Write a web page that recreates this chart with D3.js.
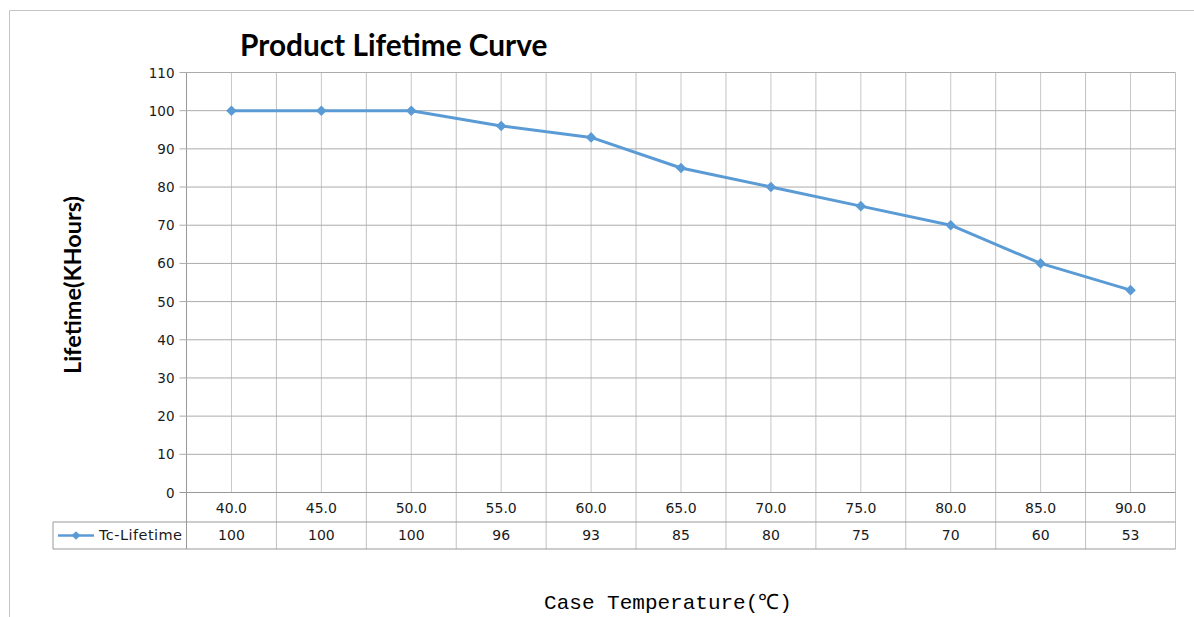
<!DOCTYPE html>
<html lang="en">
<head>
    <meta charset="utf-8">
    <script src="https://d3js.org/d3.v7.min.js"></script>
</head>
<style>
    body { margin: 0; background: #fff; }
</style>
<body>
        <script>
            const w = 1194
            const h = 617

            // data
            const temps = ["40.0", "45.0", "50.0", "55.0", "60.0", "65.0", "70.0", "75.0", "80.0", "85.0", "90.0"]
            const lifetime = [100, 100, 100, 96, 93, 85, 80, 75, 70, 60, 53]
            const yTicks = [0, 10, 20, 30, 40, 50, 60, 70, 80, 90, 100, 110]
            const seriesName = "Tc-Lifetime"

            const blue = "#5B9BD5"
            const tickFont = "'DejaVu Sans', Verdana, sans-serif"

            var svg = d3.select("body")
                .append("svg")
                .attr("width", w)
                .attr("height", h);

            // outer frame (top and left edges only visible)
            svg.append("path")
                .attr("d", "M9.5," + h + "V10.5H" + w)
                .attr("fill", "none")
                .attr("stroke", "#c4c4c4")

            const pLeft = 186.5, pRight = 1175.5, pTop = 72.5, pBottom = 492.5
            const row1 = 522, row2 = 549

            let xScale = d3.scaleBand()
                .domain(temps)
                .range([pLeft, pRight])
                .padding(0)

            let yScale = d3.scaleLinear()
                .domain([0, 110])
                .range([pBottom, pTop])

            // vertical gridlines at category centres and band edges
            const edges = temps.map(t => xScale(t)).concat([pRight])
            svg.selectAll(".vcenter")
                .data(temps)
                .enter()
                .append("line")
                .attr("x1", d => xScale(d) + xScale.bandwidth() / 2)
                .attr("x2", d => xScale(d) + xScale.bandwidth() / 2)
                .attr("y1", pTop)
                .attr("y2", pBottom)
                .attr("stroke", "#c8c8c8")
            svg.selectAll(".vedge")
                .data(edges)
                .enter()
                .append("line")
                .attr("x1", d => d)
                .attr("x2", d => d)
                .attr("y1", pTop)
                .attr("y2", row2)
                .attr("stroke", d => d == pLeft ? "#999" : "#c0c0c0")

            // horizontal gridlines
            svg.selectAll(".hgrid")
                .data(yTicks)
                .enter()
                .append("line")
                .attr("x1", pLeft - 7)
                .attr("x2", pRight)
                .attr("y1", d => yScale(d))
                .attr("y2", d => yScale(d))
                .attr("stroke", d => d == 0 ? "#999" : "#ababab")

            // y tick labels
            svg.selectAll(".ylab")
                .data(yTicks)
                .enter()
                .append("text")
                .attr("x", pLeft - 12)
                .attr("y", d => yScale(d) + 5)
                .attr("text-anchor", "end")
                .attr("font-family", tickFont)
                .attr("font-size", "13.5px")
                .attr("fill", "#1a1a1a")
                .text(d => d)

            // data table
            svg.append("line").attr("x1", 53).attr("x2", pRight).attr("y1", row1).attr("y2", row1).attr("stroke", "#999")
            svg.append("line").attr("x1", 53).attr("x2", pRight).attr("y1", row2).attr("y2", row2).attr("stroke", "#999")
            svg.append("line").attr("x1", 53).attr("x2", 53).attr("y1", row1).attr("y2", row2).attr("stroke", "#999")

            svg.selectAll(".cat")
                .data(temps)
                .enter()
                .append("text")
                .attr("x", d => xScale(d) + xScale.bandwidth() / 2)
                .attr("y", 513)
                .attr("text-anchor", "middle")
                .attr("font-family", tickFont)
                .attr("font-size", "14px")
                .attr("fill", "#1a1a1a")
                .text(d => d)

            svg.selectAll(".val")
                .data(lifetime)
                .enter()
                .append("text")
                .attr("x", (d, i) => xScale(temps[i]) + xScale.bandwidth() / 2)
                .attr("y", 540)
                .attr("text-anchor", "middle")
                .attr("font-family", tickFont)
                .attr("font-size", "14px")
                .attr("fill", "#1a1a1a")
                .text(d => d)

            // legend key in the table
            svg.append("line").attr("x1", 58).attr("x2", 94).attr("y1", 535.5).attr("y2", 535.5)
                .attr("stroke", blue).attr("stroke-width", 2.5)
            svg.append("path")
                .attr("d", d3.symbol(d3.symbolSquare, 38)())
                .attr("transform", "translate(76,535.5) rotate(45)")
                .attr("fill", blue)
            svg.append("text")
                .attr("x", 99)
                .attr("y", 540)
                .attr("font-family", tickFont)
                .attr("font-size", "14.5px")
                .attr("letter-spacing", "0.45px")
                .attr("fill", "#1a1a1a")
                .text(seriesName)

            // the line
            const line = d3.line()
                .x((d, i) => xScale(temps[i]) + xScale.bandwidth() / 2)
                .y(d => yScale(d))
            svg.append("path")
                .datum(lifetime)
                .attr("d", line)
                .attr("fill", "none")
                .attr("stroke", blue)
                .attr("stroke-width", 3)
                .attr("stroke-linejoin", "round")

            svg.selectAll(".pt")
                .data(lifetime)
                .enter()
                .append("path")
                .attr("d", d3.symbol(d3.symbolSquare, 56)())
                .attr("transform", (d, i) => "translate(" + (xScale(temps[i]) + xScale.bandwidth() / 2) + "," + yScale(d) + ") rotate(45)")
                .attr("fill", blue)

            // titles
            svg.append("text")
                .attr("x", 240)
                .attr("y", 56)
                .attr("font-family", "Lato, 'Open Sans', sans-serif")
                .attr("font-weight", "bold")
                .attr("font-size", "29.8px")
                .attr("fill", "#000")
                .text("Product Lifetime Curve")

            svg.append("text")
                .attr("transform", "translate(81,285) rotate(-90)")
                .attr("text-anchor", "middle")
                .attr("font-family", "Lato, 'Open Sans', sans-serif")
                .attr("font-weight", "bold")
                .attr("font-size", "23.5px")
                .attr("fill", "#000")
                .text("Lifetime(KHours)")

            svg.append("text")
                .attr("x", 668)
                .attr("y", 609)
                .attr("text-anchor", "middle")
                .attr("font-family", "'Liberation Mono', 'DejaVu Sans Mono', monospace")
                .attr("font-size", "21px")
                .attr("fill", "#000")
                .text("Case Temperature(℃)")
        </script>
    </body>
</html>
